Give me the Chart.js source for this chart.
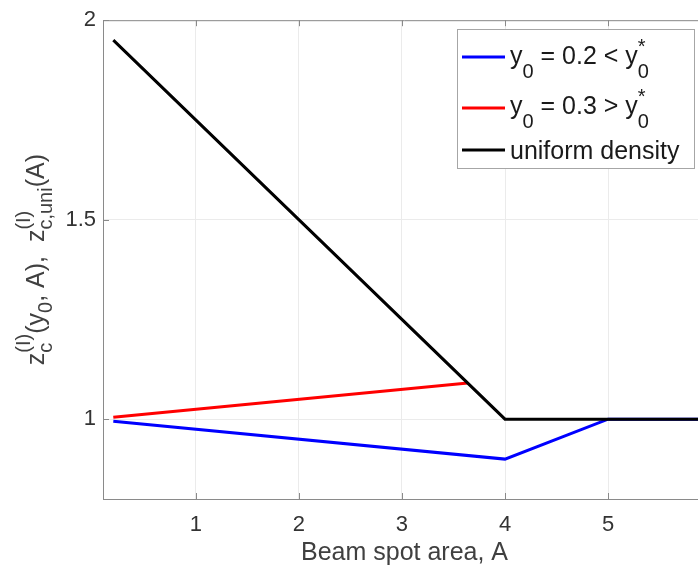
<!DOCTYPE html>
<html>
<head>
<meta charset="utf-8">
<script src="https://cdn.jsdelivr.net/npm/chart.js@4/dist/chart.umd.min.js"></script>
<style>
  html, body { margin: 0; padding: 0; background: #fff; overflow: hidden; }
  #wrap { width: 698px; height: 566px; overflow: hidden; }
</style>
</head>
<body>
<div id="wrap"><canvas id="chart" width="706" height="566"></canvas></div>
<script>
const X_TICKS = [1, 2, 3, 4, 5];
const Y_TICKS = [1, 1.5, 2];

// z_c(y0, A) for y0 = 0.2 (below y0*)
const LOW_X = [0.2, 4, 5, 6];
const LOW_Y = [0.995, 0.9, 1, 1];
// z_c(y0, A) for y0 = 0.3 (above y0*)
const HIGH_X = [0.2, 3.64];
const HIGH_Y = [1.005, 1.091];
// uniform density
const UNI_X = [0.2, 4, 6];
const UNI_Y = [1.95, 1, 1];

const FONT = '"Liberation Sans", Arial, sans-serif';
const TEXT = '#333333';
const AXIS = '#8a8a8a';

const pts = (xs, ys) => xs.map((x, i) => ({ x, y: ys[i] }));

// draw text with TeX-like sub/superscripts; parts are strings or {sub, sup}
function richWidth(ctx, parts, size, small) {
  return parts.map(p => {
    if (typeof p === 'string') {
      ctx.font = `${size}px ${FONT}`;
      return ctx.measureText(p).width;
    }
    ctx.font = `${small}px ${FONT}`;
    return Math.max(p.sub ? ctx.measureText(p.sub).width : 0, p.sup ? ctx.measureText(p.sup).width : 0);
  });
}

function drawRich(ctx, parts, x, y, opt) {
  const { size, small, subDy, supDy, center } = opt;
  const widths = richWidth(ctx, parts, size, small);
  let cx = center ? x - widths.reduce((a, b) => a + b, 0) / 2 : x;
  ctx.textAlign = 'left';
  ctx.textBaseline = 'alphabetic';
  parts.forEach((p, i) => {
    if (typeof p === 'string') {
      ctx.font = `${size}px ${FONT}`;
      ctx.fillText(p, cx, y);
    } else {
      ctx.font = `${small}px ${FONT}`;
      if (p.sub) ctx.fillText(p.sub, cx, y + subDy);
      if (p.sup) ctx.fillText(p.sup, cx, y + supDy);
    }
    cx += widths[i];
  });
}

const LEGEND_ITEMS = [
  { color: '#0000ff', parts: ['y', { sub: '0' }, ' = 0.2 < y', { sub: '0', sup: '*' }] },
  { color: '#ff0000', parts: ['y', { sub: '0' }, ' = 0.3 > y', { sub: '0', sup: '*' }] },
  { color: '#000000', parts: ['uniform density'] },
];

const matlabLook = {
  id: 'matlabLook',
  afterDraw(chart) {
    const { ctx, chartArea: a, scales } = chart;
    ctx.save();
    // top border
    ctx.strokeStyle = AXIS;
    ctx.lineWidth = 1;
    ctx.beginPath();
    ctx.moveTo(a.left, a.top + 0.5);
    ctx.lineTo(a.right, a.top + 0.5);
    ctx.stroke();
    // inward ticks
    ctx.beginPath();
    X_TICKS.forEach(v => {
      const px = Math.round(scales.x.getPixelForValue(v)) + 0.5;
      ctx.moveTo(px, a.bottom); ctx.lineTo(px, a.bottom - 6);
      ctx.moveTo(px, a.top); ctx.lineTo(px, a.top + 6);
    });
    Y_TICKS.forEach(v => {
      const py = Math.round(scales.y.getPixelForValue(v)) + 0.5;
      ctx.moveTo(a.left, py); ctx.lineTo(a.left + 6, py);
    });
    ctx.stroke();

    // legend
    const lx = 457.5, ly = 29.5, lw = 237, lh = 139;
    ctx.fillStyle = '#fff';
    ctx.fillRect(lx, ly, lw, lh);
    ctx.strokeStyle = '#a6a6a6';
    ctx.strokeRect(lx, ly, lw, lh);
    const rowLine = [57, 108, 150];
    const rowBase = [64, 114, 159];
    LEGEND_ITEMS.forEach((it, i) => {
      ctx.strokeStyle = it.color;
      ctx.lineWidth = 3;
      ctx.beginPath();
      ctx.moveTo(462, rowLine[i]);
      ctx.lineTo(505, rowLine[i]);
      ctx.stroke();
      ctx.fillStyle = '#1a1a1a';
      drawRich(ctx, it.parts, 510, rowBase[i], { size: 25, small: 20, subDy: 14, supDy: -11 });
    });

    // x title
    ctx.fillStyle = '#404040';
    ctx.font = `25px ${FONT}`;
    ctx.textAlign = 'center';
    ctx.textBaseline = 'alphabetic';
    ctx.fillText('Beam spot area, A', (a.left + a.right) / 2, 560);

    // y title
    ctx.translate(44, (a.top + a.bottom) / 2);
    ctx.rotate(-Math.PI / 2);
    drawRich(ctx, [
      'z', { sub: 'c', sup: '(I)' }, '(y', { sub: '0' }, ', A),  z', { sub: 'c,uni', sup: '(I)' }, '(A)'
    ], 0, 0, { size: 25, small: 20, subDy: 8, supDy: -14, center: true });
    ctx.restore();
  }
};

const lineDs = (data, color) => ({
  data, borderColor: color, borderWidth: 3, pointRadius: 0, fill: false, tension: 0, showLine: true,
});

// first dataset is drawn on top, so the uniform curve goes first
new Chart(document.getElementById('chart'), {
  type: 'scatter',
  data: {
    datasets: [
      lineDs(pts(UNI_X, UNI_Y), '#000000'),
      lineDs(pts(HIGH_X, HIGH_Y), '#ff0000'),
      lineDs(pts(LOW_X, LOW_Y), '#0000ff'),
    ],
  },
  options: {
    responsive: false,
    animation: false,
    layout: { padding: { top: 17, left: 0, right: 0, bottom: 0 } },
    plugins: { legend: { display: false }, tooltip: { enabled: false } },
    scales: {
      x: {
        type: 'linear', min: 0.1, max: 5.95,
        afterBuildTicks: s => { s.ticks = X_TICKS.map(v => ({ value: v })); },
        afterFit: s => { s.height = 67; },
        grid: { color: '#ebebeb', drawTicks: false },
        border: { color: AXIS, width: 1 },
        ticks: { color: TEXT, font: { family: FONT, size: 22 }, padding: 13, maxRotation: 0, callback: v => String(v) },
      },
      y: {
        type: 'linear', min: 0.8, max: 2,
        afterBuildTicks: s => { s.ticks = Y_TICKS.map(v => ({ value: v })); },
        afterFit: s => { s.width = 103; },
        grid: { color: '#ebebeb', drawTicks: false },
        border: { color: AXIS, width: 1 },
        ticks: { color: TEXT, font: { family: FONT, size: 22 }, padding: 7, callback: v => String(v) },
      },
    },
  },
  plugins: [matlabLook],
});
</script>
</body>
</html>
